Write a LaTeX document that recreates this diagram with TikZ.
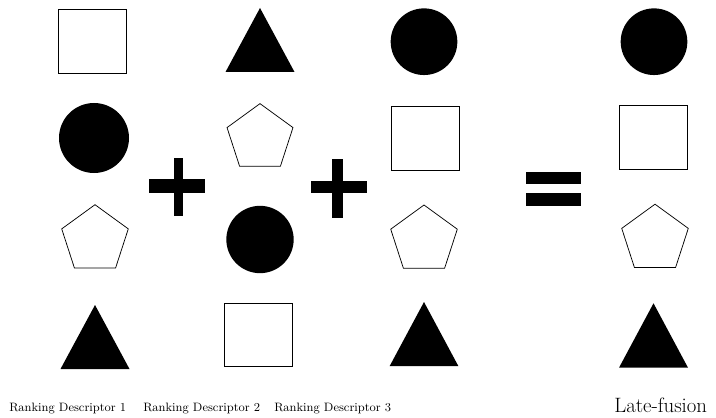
\documentclass[tikz,border=0pt]{standalone}
\usepackage{fontspec}
\usetikzlibrary{shapes.geometric}
\begin{document}
\begin{tikzpicture}[x=0.75pt,y=-0.75pt,
  sq/.style={draw,line width=0.55pt,rectangle,minimum width=51pt,minimum height=48pt,inner sep=0pt},
  dot/.style={fill,circle,inner sep=0pt},
  pent/.style={draw,line width=0.55pt,regular polygon,regular polygon sides=5,minimum size=52.5pt,inner sep=0pt},
  lbl/.style={anchor=base west,inner sep=0pt,font=\fontsize{9.1}{11}\selectfont},
  biglbl/.style={anchor=base west,inner sep=0pt,font=\fontsize{15.6}{18}\selectfont}]
\useasboundingbox (0,0) rectangle (716,417);
% column 1
\node[sq] (s1) at (92,41) {};
\node[dot,minimum size=52.5pt] (c1) at (94,138) {};
\node[pent] (p1) at (95,239.7) {};
\coordinate (t1) at (95,337);
\fill (t1) ++(-34.5,32) -- ++(34.5,-64) -- ++(34.5,64) -- cycle;
% column 2
\coordinate (t2) at (260,40);
\fill (t2) ++(-34.5,32) -- ++(34.5,-64) -- ++(34.5,64) -- cycle;
\node[pent,minimum size=52pt] (p2) at (260,138.3) {};
\node[dot,minimum size=50.5pt] (c2) at (260,239.5) {};
\node[sq,minimum width=51.3pt,minimum height=47.3pt] (s2) at (258.5,334.5) {};
% column 3
\node[dot,minimum size=50pt] (c3) at (424,41.7) {};
\node[sq] (s3) at (425,138) {};
\node[pent] (p3) at (424,240) {};
\coordinate (t3) at (424,334);
\fill (t3) ++(-34.3,32) -- ++(34.3,-64) -- ++(34.3,64) -- cycle;
% column 4
\node[dot,minimum size=50pt] (c4) at (654,41.7) {};
\node[sq] (s4) at (653,137.7) {};
\node[pent] (p4) at (655,239.2) {};
\coordinate (t4) at (653.5,335.5);
\fill (t4) ++(-34.5,32.2) -- ++(34.5,-64.4) -- ++(34.5,64.4) -- cycle;
% plus signs
\coordinate (plus1) at (178,186);
\fill (149,179.3) rectangle (205,192.7);
\fill (173.7,158.3) rectangle (182.7,215.7);
\coordinate (plus2) at (338,188);
\fill (311,181) rectangle (366.7,193.3);
\fill (332.3,159) rectangle (343.3,218.3);
% equals
\coordinate (eq) at (553,189);
\fill (525.7,171.7) rectangle (581,184.3);
\fill (525.7,192.7) rectangle (581,205.7);
% labels
\node[lbl] (l1) at (9,411) {Ranking Descriptor 1};
\node[lbl] (l2) at (143,411) {Ranking Descriptor 2};
\node[lbl] (l3) at (274,411) {Ranking Descriptor 3};
\node[biglbl] (l4) at (614,412) {Late-fusion};
\end{tikzpicture}
\end{document}
